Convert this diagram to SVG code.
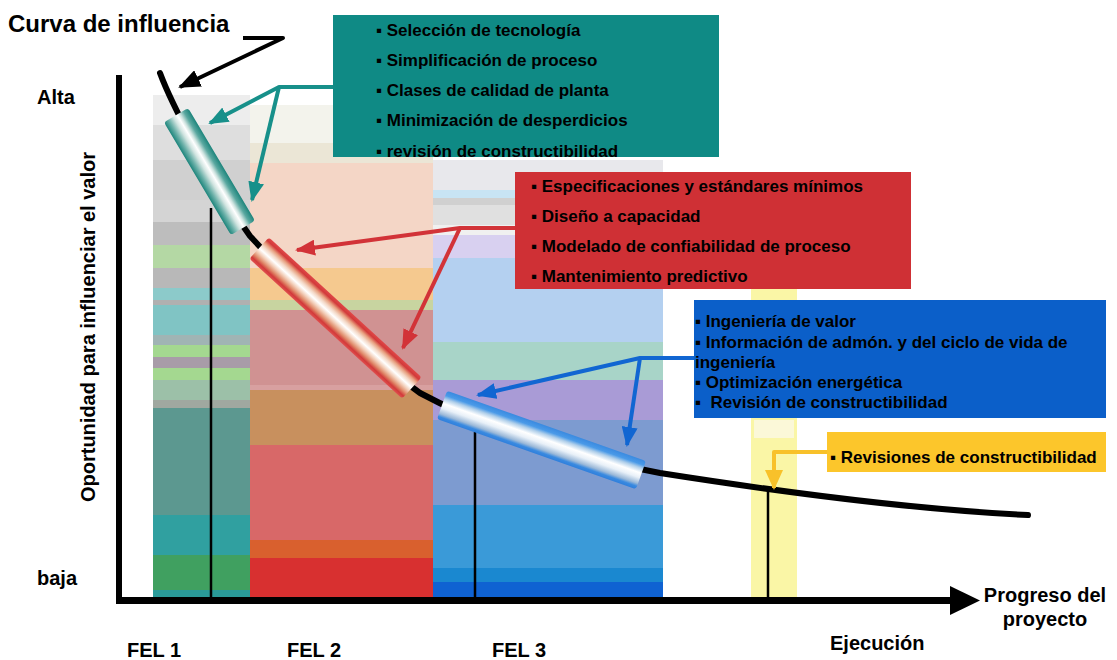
<svg xmlns="http://www.w3.org/2000/svg" width="1117" height="660" viewBox="0 0 1117 660">
  <style>
    .lbl{font-family:"Liberation Sans",Arial,sans-serif;font-size:20px;font-weight:bold;fill:#000}
    .ttl{font-family:"Liberation Sans",Arial,sans-serif;font-size:24px;font-weight:bold;fill:#000}
    .bx{font-family:"Liberation Sans",Arial,sans-serif;font-size:17px;font-weight:bold;fill:#000;white-space:pre}
    .con{fill:none;stroke-width:4;stroke-linejoin:round;stroke-linecap:butt}
  </style>
  <defs>
    <marker id="ahBlack" viewBox="0 0 22 18" refX="20" refY="9" markerWidth="22" markerHeight="18" markerUnits="userSpaceOnUse" orient="auto">
      <path d="M0,0 L22,9 L0,18 z" fill="#000"/>
    </marker>
    <marker id="ahTeal" viewBox="0 0 20 16" refX="18" refY="8" markerWidth="20" markerHeight="16" markerUnits="userSpaceOnUse" orient="auto">
      <path d="M0,0 L20,8 L0,16 z" fill="#17908a"/>
    </marker>
    <marker id="ahRed" viewBox="0 0 20 16" refX="18" refY="8" markerWidth="20" markerHeight="16" markerUnits="userSpaceOnUse" orient="auto">
      <path d="M0,0 L20,8 L0,16 z" fill="#d23338"/>
    </marker>
    <marker id="ahBlue" viewBox="0 0 20 16" refX="18" refY="8" markerWidth="20" markerHeight="16" markerUnits="userSpaceOnUse" orient="auto">
      <path d="M0,0 L20,8 L0,16 z" fill="#1166d2"/>
    </marker>
    <marker id="ahYellow" viewBox="0 0 20 18" refX="18" refY="9" markerWidth="20" markerHeight="18" markerUnits="userSpaceOnUse" orient="auto">
      <path d="M0,0 L20,9 L0,18 z" fill="#f8c12a"/>
    </marker>
    <linearGradient id="gTeal" x1="0" y1="0" x2="0" y2="1">
      <stop offset="0" stop-color="#1d857c"/>
      <stop offset="0.2" stop-color="#5aa8a0"/>
      <stop offset="0.36" stop-color="#cfe4e0"/>
      <stop offset="0.46" stop-color="#ffffff"/>
      <stop offset="0.62" stop-color="#d0e4e0"/>
      <stop offset="0.82" stop-color="#6ab0a8"/>
      <stop offset="1" stop-color="#1d857c"/>
    </linearGradient>
    <linearGradient id="gRed" x1="0" y1="0" x2="0" y2="1">
      <stop offset="0" stop-color="#e04848"/>
      <stop offset="0.12" stop-color="#d23a3a"/>
      <stop offset="0.24" stop-color="#e8a080"/>
      <stop offset="0.36" stop-color="#f4d8c6"/>
      <stop offset="0.5" stop-color="#ffffff"/>
      <stop offset="0.64" stop-color="#f2ccb6"/>
      <stop offset="0.78" stop-color="#e08a6a"/>
      <stop offset="0.9" stop-color="#d23a3a"/>
      <stop offset="1" stop-color="#e05050"/>
    </linearGradient>
    <linearGradient id="gBlue" x1="0" y1="0" x2="0" y2="1">
      <stop offset="0" stop-color="#3a8ae0"/>
      <stop offset="0.16" stop-color="#4a9ae8"/>
      <stop offset="0.28" stop-color="#b0cfea"/>
      <stop offset="0.44" stop-color="#ffffff"/>
      <stop offset="0.6" stop-color="#e8f0f8"/>
      <stop offset="0.8" stop-color="#9ab8d8"/>
      <stop offset="0.9" stop-color="#3a8ae0"/>
      <stop offset="1" stop-color="#2f7fdc"/>
    </linearGradient>
    <clipPath id="clipTeal"><rect x="333" y="15" width="386" height="142"/></clipPath>
  </defs>

  <rect width="1117" height="660" fill="#fff"/>

  <!-- phase columns: stacked colour bands -->
  <g id="fel1">
    <rect x="153" y="95" width="97" height="30" fill="#ededed"/>
    <rect x="153" y="125" width="97" height="35" fill="#dedede"/>
    <rect x="153" y="160" width="97" height="40" fill="#d0d0d0"/>
    <rect x="153" y="200" width="97" height="22" fill="#d4d4d4"/>
    <rect x="153" y="222" width="97" height="23" fill="#bdbdbd"/>
    <rect x="153" y="245" width="97" height="23" fill="#b4d8a4"/>
    <rect x="153" y="268" width="97" height="20" fill="#b8b8b8"/>
    <rect x="153" y="288" width="97" height="12" fill="#8ccaca"/>
    <rect x="153" y="300" width="97" height="5" fill="#b0b0b0"/>
    <rect x="153" y="305" width="97" height="30" fill="#80c4c4"/>
    <rect x="153" y="335" width="97" height="10" fill="#a0b4b4"/>
    <rect x="153" y="345" width="97" height="12" fill="#a4d890"/>
    <rect x="153" y="357" width="97" height="11" fill="#a89ca8"/>
    <rect x="153" y="368" width="97" height="12" fill="#a4d890"/>
    <rect x="153" y="380" width="97" height="20" fill="#9cc0a8"/>
    <rect x="153" y="400" width="97" height="8" fill="#a0a8a0"/>
    <rect x="153" y="408" width="97" height="107" fill="#5c9890"/>
    <rect x="153" y="515" width="97" height="40" fill="#30a0a0"/>
    <rect x="153" y="555" width="97" height="35" fill="#40a060"/>
    <rect x="153" y="590" width="97" height="8" fill="#2a9a98"/>
  </g>
  <g id="fel2">
    <rect x="250" y="105" width="183" height="38" fill="#f3f3ec"/>
    <rect x="250" y="143" width="183" height="20" fill="#ebe6d6"/>
    <rect x="250" y="163" width="183" height="105" fill="#f4d6c6"/>
    <rect x="250" y="268" width="183" height="32" fill="#f5c98f"/>
    <rect x="250" y="300" width="183" height="10" fill="#c8d4a0"/>
    <rect x="250" y="310" width="183" height="75" fill="#d09292"/>
    <rect x="250" y="385" width="183" height="5" fill="#d8a0a0"/>
    <rect x="250" y="390" width="183" height="55" fill="#c8905e"/>
    <rect x="250" y="445" width="183" height="95" fill="#d86868"/>
    <rect x="250" y="540" width="183" height="18" fill="#d9602e"/>
    <rect x="250" y="558" width="183" height="40" fill="#d83030"/>
  </g>
  <g id="fel3">
    <rect x="433" y="160" width="230" height="30" fill="#e8e8ec"/>
    <rect x="433" y="190" width="230" height="8" fill="#c8e4f4"/>
    <rect x="433" y="198" width="230" height="7" fill="#d0d0d0"/>
    <rect x="433" y="205" width="230" height="20" fill="#e0e0e0"/>
    <rect x="433" y="225" width="230" height="10" fill="#f0f0f0"/>
    <rect x="433" y="235" width="230" height="23" fill="#d8d0f0"/>
    <rect x="433" y="258" width="230" height="84" fill="#b4d0f0"/>
    <rect x="433" y="342" width="230" height="38" fill="#a8d4c8"/>
    <rect x="433" y="380" width="230" height="40" fill="#a99bd6"/>
    <rect x="433" y="420" width="230" height="85" fill="#7d9bd0"/>
    <rect x="433" y="505" width="230" height="63" fill="#3a9ad8"/>
    <rect x="433" y="568" width="230" height="14" fill="#1a88d0"/>
    <rect x="433" y="582" width="230" height="16" fill="#0f62d2"/>
  </g>
  <g id="ejecucion">
    <rect x="751" y="285" width="46" height="313" fill="#faf6a6"/>
    <rect x="754" y="420" width="40" height="18" fill="#fbf8d8"/>
  </g>

  <!-- phase marker lines -->
  <g id="marcas" stroke="#000" stroke-width="2.5">
    <line x1="211" y1="208" x2="211" y2="600"/>
    <line x1="475" y1="432" x2="475" y2="600"/>
    <line x1="768" y1="488" x2="768" y2="600"/>
  </g>

  <!-- influence curve -->
  <path id="curva" d="M160,73 C170,100 210,180 250,236 C300,290 360,350 420,393 C470,420 560,455 660,473 C800,495 920,510 1028,515" fill="none" stroke="#000" stroke-width="6" stroke-linecap="round"/>

  <!-- value-lever tubes along the curve -->
  <g id="tubo-fel1" transform="translate(209.5,171.5) rotate(59.3)">
    <rect x="-65.5" y="-14" width="131" height="28" rx="3" fill="url(#gTeal)"/>
  </g>
  <g id="tubo-fel2" transform="translate(335.5,318) rotate(42.5)">
    <rect x="-103.5" y="-14.5" width="207" height="29" rx="3" fill="url(#gRed)"/>
  </g>
  <g id="tubo-fel3" transform="translate(541.5,440) rotate(19.4)">
    <rect x="-105.5" y="-15" width="211" height="30" rx="3" fill="url(#gBlue)"/>
  </g>

  <!-- axes -->
  <g id="ejes">
    <rect x="116" y="75" width="6" height="529" fill="#000"/>
    <rect x="116" y="597" width="840" height="7" fill="#000"/>
    <path d="M950,586 L980,600.5 L950,615 z" fill="#000"/>
  </g>

  <!-- axis and phase labels -->
  <g id="etiquetas">
    <text class="ttl" x="8" y="32">Curva de influencia</text>
    <text class="lbl" x="37" y="104">Alta</text>
    <text class="lbl" x="37" y="585">baja</text>
    <text class="lbl" transform="translate(95,327) rotate(-90)" text-anchor="middle">Oportunidad para influenciar el valor</text>
    <text class="lbl" x="1045" y="602" text-anchor="middle">Progreso del</text>
    <text class="lbl" x="1045" y="626" text-anchor="middle">proyecto</text>
    <text class="lbl" x="830" y="650">Ejecución</text>
    <text class="lbl" x="127" y="657">FEL 1</text>
    <text class="lbl" x="287" y="657">FEL 2</text>
    <text class="lbl" x="492" y="657">FEL 3</text>
  </g>

  <!-- callout boxes -->
  <g id="caja-fel1">
    <rect x="333" y="15" width="386" height="142" fill="#0f8a85"/>
    <g clip-path="url(#clipTeal)">
      <text class="bx" x="376" y="36">▪ Selección de tecnología</text>
      <text class="bx" x="376" y="66">▪ Simplificación de proceso</text>
      <text class="bx" x="376" y="96">▪ Clases de calidad de planta</text>
      <text class="bx" x="376" y="126">▪ Minimización de desperdicios</text>
      <text class="bx" x="376" y="157">▪ revisión de constructibilidad</text>
    </g>
  </g>
  <g id="caja-fel2">
    <rect x="515" y="172" width="396" height="117" fill="#cf3035"/>
    <text class="bx" x="531" y="192">▪ Especificaciones y estándares mínimos</text>
    <text class="bx" x="531" y="222">▪ Diseño a capacidad</text>
    <text class="bx" x="531" y="252">▪ Modelado de confiabilidad de proceso</text>
    <text class="bx" x="531" y="282">▪ Mantenimiento predictivo</text>
  </g>
  <g id="caja-fel3">
    <rect x="694" y="300" width="412" height="118" fill="#0b5fc9"/>
    <text class="bx" x="695" y="327">▪ Ingeniería de valor</text>
    <text class="bx" x="695" y="348">▪ Información de admón. y del ciclo de vida de</text>
    <text class="bx" x="695" y="368">ingeniería</text>
    <text class="bx" x="695" y="388">▪ Optimización energética</text>
    <text class="bx" x="695" y="408" xml:space="preserve">▪  Revisión de constructibilidad</text>
  </g>
  <g id="caja-ejecucion">
    <rect x="827" y="432" width="279" height="40" fill="#fcc62b"/>
    <text class="bx" x="830" y="463">▪ Revisiones de constructibilidad</text>
  </g>

  <!-- connectors -->
  <g id="conectores">
    <polyline class="con" stroke="#000" stroke-width="5" points="243,38 283,38 180,87" marker-end="url(#ahBlack)"/>
    <polyline class="con" stroke="#17908a" points="333,87 279,87 210,123" marker-end="url(#ahTeal)"/>
    <line class="con" stroke="#17908a" x1="279" y1="87" x2="252" y2="200" marker-end="url(#ahTeal)"/>
    <polyline class="con" stroke="#d23338" points="515,228 460,228 297,250" marker-end="url(#ahRed)"/>
    <line class="con" stroke="#d23338" x1="460" y1="228" x2="403" y2="348" marker-end="url(#ahRed)"/>
    <polyline class="con" stroke="#1166d2" points="694,358 640,358 478,395" marker-end="url(#ahBlue)"/>
    <line class="con" stroke="#1166d2" x1="640" y1="358" x2="627" y2="445" marker-end="url(#ahBlue)"/>
    <polyline class="con" stroke="#f8c12a" points="827,452 774,452 774,488" marker-end="url(#ahYellow)"/>
  </g>
</svg>
